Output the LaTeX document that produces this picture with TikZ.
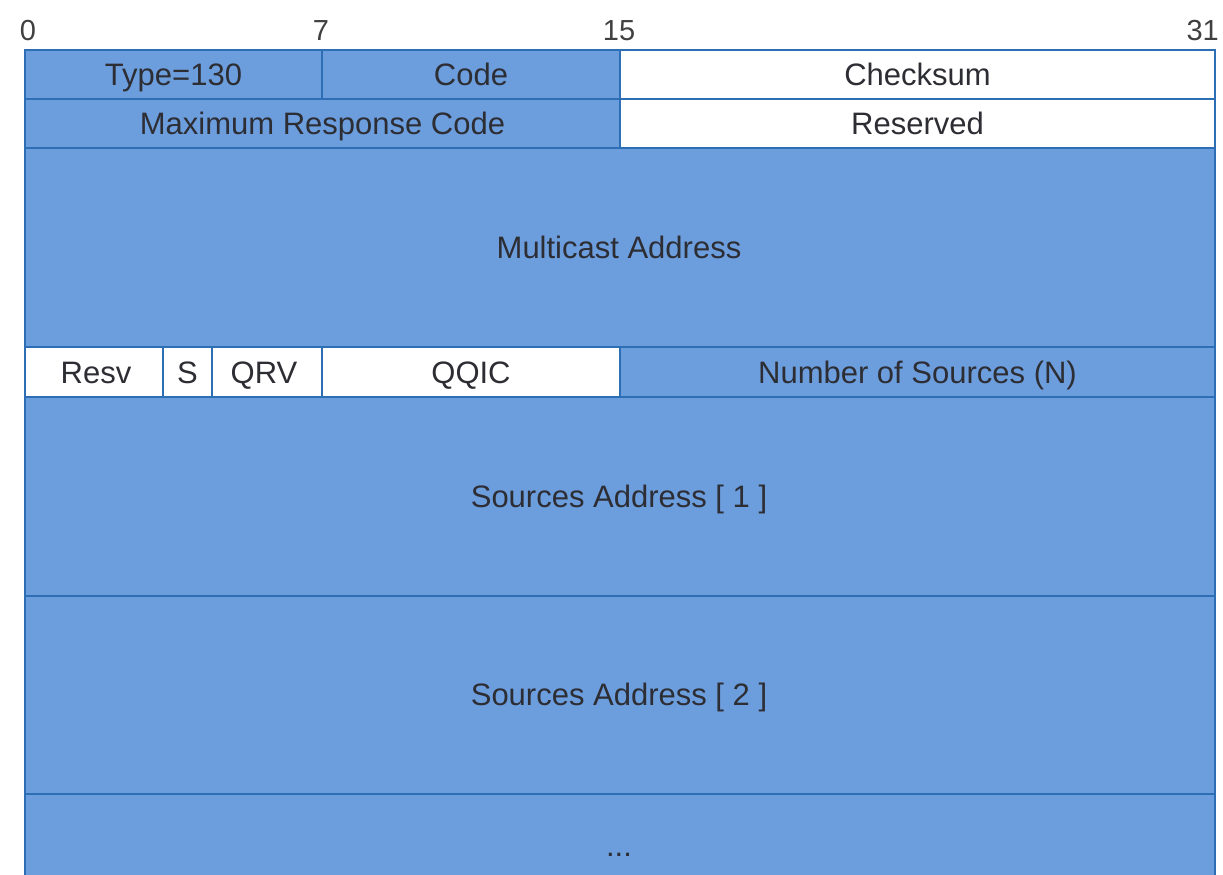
\documentclass[tikz,border=0pt]{standalone}
\usepackage{fontspec}
\setmainfont{Liberation Sans}

\definecolor{pktblue}{RGB}{108,158,222}
\definecolor{pktline}{RGB}{46,110,180}
\definecolor{pkttext}{RGB}{45,45,52}

\tikzset{
  bluefield/.style={draw=pktline, fill=pktblue, line width=2.5pt},
  whitefield/.style={draw=pktline, fill=white, line width=2.5pt},
  lbl/.style={text=pkttext, font=\fontsize{31}{36}\selectfont, inner sep=0pt,
              text height=22pt, text depth=0pt},
  bitno/.style={lbl, text=black!75, font=\fontsize{29}{34}\selectfont, text height=21pt}
}

\begin{document}
\begin{tikzpicture}[x=1pt,y=-1pt]
\useasboundingbox (0,0) rectangle (1223,875);
\fill [white] (0,0) rectangle (1223,875);

% bit positions
 \node [bitno] (b0)  at (28,30)   {0};
 \node [bitno] (b7)  at (321,30)  {7};
 \node [bitno] (b15) at (619,30)  {15};
 \node [bitno,anchor=east] (b31) at (1219,30) {31};

% row 1
\draw [bluefield]  (25,50) rectangle (322,99);
\draw [bluefield]  (322,50) rectangle (620,99);
\draw [whitefield] (620,50) rectangle (1215,99);
 \node [lbl] (type) at (173.5,74) {Type=130};
 \node [lbl] (code) at (471,74)   {Code};
 \node [lbl] (csum) at (917.5,74) {Checksum};

% row 2
\draw [bluefield]  (25,99) rectangle (620,148);
\draw [whitefield] (620,99) rectangle (1215,148);
 \node [lbl] (mrc) at (322.5,123) {Maximum Response Code};
 \node [lbl] (rsv) at (917.5,123) {Reserved};

% multicast address
\draw [bluefield] (25,148) rectangle (1215,347);
 \node [lbl] (maddr) at (619,247) {Multicast Address};

% flags row
\draw [whitefield] (25,347) rectangle (163,397);
\draw [whitefield] (163,347) rectangle (212,397);
\draw [whitefield] (212,347) rectangle (322,397);
\draw [whitefield] (322,347) rectangle (620,397);
\draw [bluefield]  (620,347) rectangle (1215,397);
 \node [lbl] (resv) at (96,372)    {Resv};
 \node [lbl] (sflag) at (187.5,372) {S};
 \node [lbl] (qrv)  at (264,372)   {QRV};
 \node [lbl] (qqic) at (471,372)   {QQIC};
 \node [lbl] (nsrc) at (917.5,372) {Number of Sources (N)};

% source addresses
\draw [bluefield] (25,397) rectangle (1215,596);
\draw [bluefield] (25,596) rectangle (1215,794);
\draw [bluefield] (25,794) rectangle (1215,900);
 \node [lbl] (src1) at (619,496) {Sources Address [ 1 ]};
 \node [lbl] (src2) at (619,694) {Sources Address [ 2 ]};
 \node [lbl] (more) at (619,845) {...};
\end{tikzpicture}
\end{document}
